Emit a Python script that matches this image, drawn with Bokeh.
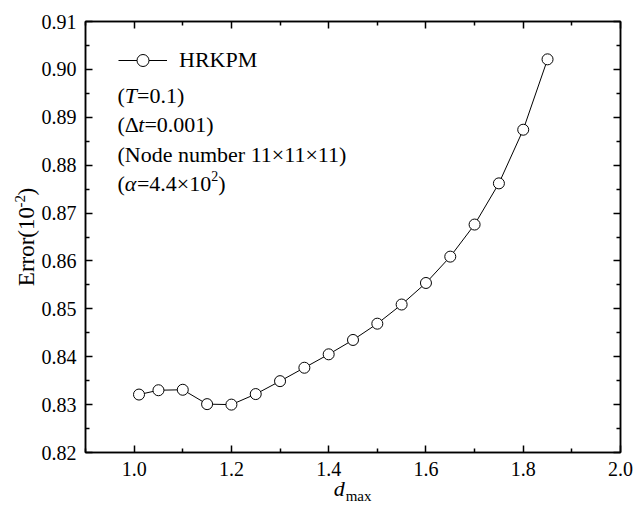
import math
from bokeh.plotting import figure
from bokeh.models import (FixedTicker, NumeralTickFormatter, LinearAxis, Label,
                          Legend, LegendItem, CustomJSTickFormatter, Range1d)
from bokeh.embed import file_html
from bokeh.resources import INLINE

# ---- data ----
d_max = [1.01, 1.05, 1.10, 1.15, 1.20, 1.25, 1.30, 1.35, 1.40, 1.45,
         1.50, 1.55, 1.60, 1.65, 1.70, 1.75, 1.80, 1.85]
error = [0.8321, 0.8330, 0.8331, 0.8301, 0.8300, 0.8322, 0.8349, 0.8377, 0.8405, 0.8435,
         0.8469, 0.8509, 0.8554, 0.8609, 0.8676, 0.8762, 0.8874, 0.9021]
series_name = "HRKPM"

x_major = [1.0, 1.2, 1.4, 1.6, 1.8, 2.0]
x_minor = [0.9, 1.1, 1.3, 1.5, 1.7, 1.9]
y_major = [0.82, 0.83, 0.84, 0.85, 0.86, 0.87, 0.88, 0.89, 0.90, 0.91]
y_minor = [0.825, 0.835, 0.845, 0.855, 0.865, 0.875, 0.885, 0.895, 0.905]

FONT = "Liberation Serif"
NB = "\u00a0"

p = figure(width=644, height=518, x_range=Range1d(0.9, 2.0), y_range=Range1d(0.82, 0.91),
           output_backend="svg", toolbar_location=None,
           min_border_left=85, min_border_right=24, min_border_top=21, min_border_bottom=66)
p.background_fill_color = "white"
p.border_fill_color = "white"
p.outline_line_color = "black"
p.outline_line_width = 1.5
p.xgrid.visible = False
p.ygrid.visible = False


def style_axis(ax, ticks, minors, fmt, labels=True):
    ax.ticker = FixedTicker(ticks=ticks, minor_ticks=minors)
    ax.axis_line_color = "black"
    ax.axis_line_width = 1.5
    ax.major_tick_line_color = "black"
    ax.major_tick_line_width = 1.5
    ax.minor_tick_line_color = "black"
    ax.minor_tick_line_width = 1.5
    ax.major_tick_in = 7
    ax.major_tick_out = 0
    ax.minor_tick_in = 4
    ax.minor_tick_out = 0
    if labels:
        ax.formatter = NumeralTickFormatter(format=fmt)
        ax.major_label_text_font = FONT
        ax.major_label_text_font_size = "20px"
        ax.major_label_text_color = "black"
    else:
        ax.formatter = CustomJSTickFormatter(code="return ''")
        ax.major_label_text_font_size = "0px"
        ax.major_label_standoff = 0


def title_axis(ax, text, size, italic, standoff):
    # an axis that only carries a piece of an axis title
    ax.ticker = FixedTicker(ticks=[])
    ax.axis_line_color = None
    ax.major_tick_line_color = None
    ax.minor_tick_line_color = None
    ax.major_label_text_font_size = "0px"
    ax.major_label_standoff = 0
    ax.axis_label = text
    ax.axis_label_text_font = FONT
    ax.axis_label_text_font_size = f"{size}px"
    ax.axis_label_text_font_style = "italic" if italic else "normal"
    ax.axis_label_text_color = "black"
    ax.axis_label_standoff = standoff


xa = p.xaxis[0]
ya = p.yaxis[0]
style_axis(xa, x_major, x_minor, "0.0")
style_axis(ya, y_major, y_minor, "0.00")
xa.major_label_standoff = 9
ya.major_label_standoff = 9

# main parts of axis titles (gaps left with no-break spaces for the sub/superscripts)
xa.axis_label = "d" + NB * 5
xa.axis_label_text_font = FONT
xa.axis_label_text_font_size = "22px"
xa.axis_label_text_font_style = "italic"
xa.axis_label_text_color = "black"
xa.axis_label_standoff = -3

ya.axis_label = "Error(10" + NB * 2 + ")"
ya.axis_label_text_font = FONT
ya.axis_label_text_font_size = "23px"
ya.axis_label_text_font_style = "normal"
ya.axis_label_text_color = "black"
ya.axis_label_standoff = 0

top_ax = LinearAxis()
right_ax = LinearAxis()
style_axis(top_ax, x_major, x_minor, "0.0", labels=False)
style_axis(right_ax, y_major, y_minor, "0.00", labels=False)
p.add_layout(top_ax, "above")
p.add_layout(right_ax, "right")

# subscript "max" and superscript "-2"
sub_ax = LinearAxis()
title_axis(sub_ax, NB * 3 + "max", 15, False, -16)
p.add_layout(sub_ax, "below")
sup_ax = LinearAxis()
title_axis(sup_ax, NB * 19 + "-2", 15, False, -17)
p.add_layout(sup_ax, "left")

# ---- data ----
ln = p.line(d_max, error, line_color="black", line_width=1)
sc = p.scatter(d_max, error, size=11, fill_color="white", line_color="black", line_width=1)

legend = Legend(items=[LegendItem(label=series_name, renderers=[ln, sc])],
                location=(33, 377), glyph_width=49, glyph_height=30, label_height=30,
                label_standoff=12, padding=0, margin=0, spacing=0,
                border_line_color=None, background_fill_alpha=0,
                label_text_font=FONT, label_text_font_size="22px", label_text_color="black")
p.add_layout(legend)

# ---- annotation text inside the frame (approximate Times advance widths) ----
REG = {' ': 250, '(': 333, ')': 333, '=': 564, '.': 250, 'N': 722, 'o': 500, 'd': 500,
       'e': 444, 'n': 500, 'u': 500, 'm': 778, 'b': 500, 'r': 333, '×': 564, 'Δ': 612}
for c in "0123456789":
    REG[c] = 500
ITA = {'T': 556, 't': 278, 'α': 550}


def width(text, size, italic=False):
    tab = ITA if italic else REG
    return sum(tab.get(c, 500) for c in text) * size / 1000.0


def put(text, x, y, size, italic=False):
    p.add_layout(Label(x=x, y=y, x_units="canvas", y_units="canvas", text=text,
                       text_font=FONT, text_font_size=f"{size}px",
                       text_font_style="italic" if italic else "normal",
                       text_color="black", text_align="left", text_baseline="alphabetic"))


def line_of(pieces, x0, y0):
    x = x0
    for text, size, italic, rise in pieces:
        put(text, x, y0 - rise, size, italic)
        x += width(text, size, italic)


TX = 117
BASE = 95
STEP = 29.3
line_of([("(", 22, False, 0), ("T", 22, True, 0), ("=0.1)", 22, False, 0)], TX, BASE)
line_of([("(Δ", 22, False, 0), ("t", 22, True, 0), ("=0.001)", 22, False, 0)], TX, BASE + STEP)
line_of([("(Node number 11×11×11)", 22, False, 0)], TX, BASE + 2 * STEP)
line_of([("(", 22, False, 0), ("α", 22, True, 0), ("=4.4×10", 22, False, 0),
         ("2", 14, False, 7), (")", 22, False, 0)], TX, BASE + 3 * STEP)

open("out.html", "w").write(file_html(p, INLINE))
